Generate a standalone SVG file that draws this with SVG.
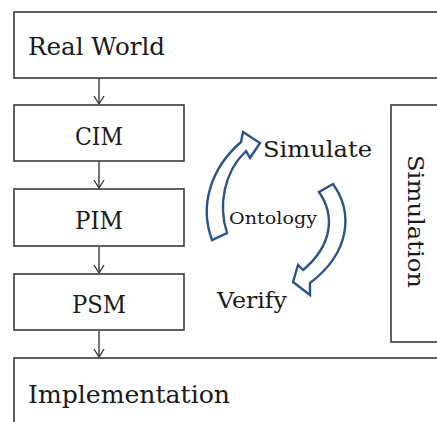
<svg xmlns="http://www.w3.org/2000/svg" width="437" height="422" viewBox="0 0 437 422">
<defs>
<style>
.box{fill:#fff;stroke:#3a3a3a;stroke-width:1.6}
.t{font-family:"DejaVu Serif","Liberation Serif",serif;fill:#1a1a1a}
.conn{stroke:#3a3a3a;stroke-width:1.4;fill:none}
.cyc{fill:#fff;stroke:#2b5587;stroke-width:2.4;stroke-linejoin:miter}
</style>
<marker id="ah" markerWidth="12" markerHeight="12" refX="9" refY="6" orient="auto" markerUnits="userSpaceOnUse">
<path d="M1,1 L9,6 L1,11" fill="none" stroke="#3a3a3a" stroke-width="1.4"/>
</marker>
</defs>
<rect width="437" height="422" fill="#fff"/>
<g id="real-world">
<rect class="box" x="14" y="12" width="430" height="66"/>
<text class="t" x="28" y="55" font-size="24" textLength="137" lengthAdjust="spacingAndGlyphs">Real World</text>
</g>
<g id="cim">
<rect class="box" x="14" y="105" width="170" height="56"/>
<text class="t" x="99" y="145" font-size="25" text-anchor="middle" textLength="48" lengthAdjust="spacingAndGlyphs">CIM</text>
</g>
<g id="pim">
<rect class="box" x="14" y="189" width="170" height="57"/>
<text class="t" x="99" y="229" font-size="25" text-anchor="middle" textLength="48" lengthAdjust="spacingAndGlyphs">PIM</text>
</g>
<g id="psm">
<rect class="box" x="14" y="274" width="170" height="56"/>
<text class="t" x="99" y="313" font-size="25" text-anchor="middle" textLength="54" lengthAdjust="spacingAndGlyphs">PSM</text>
</g>
<g id="implementation">
<rect class="box" x="14" y="358" width="430" height="70"/>
<text class="t" x="28" y="403" font-size="24" textLength="202" lengthAdjust="spacingAndGlyphs">Implementation</text>
</g>
<g id="simulation">
<rect class="box" x="391" y="105" width="50" height="237"/>
<text class="t" transform="translate(408,155) rotate(90)" font-size="23" textLength="133" lengthAdjust="spacingAndGlyphs">Simulation</text>
</g>
<g id="cycle">
<path class="cyc" d="M212,240 C199,205 211,168 241,142 L243,132 L260,143 L250,158 L246,151 C224,172 218,205 227,233 Z"/>
<path class="cyc" d="M319,192 L333,184 C353,212 351,252 310,283 L310,295 L293,282 L298,265 L303,270 C333,245 335,215 319,192 Z"/>
<text class="t" x="263" y="157" font-size="23" textLength="109" lengthAdjust="spacingAndGlyphs">Simulate</text>
<text class="t" x="229" y="224" font-size="17" textLength="88" lengthAdjust="spacingAndGlyphs">Ontology</text>
<text class="t" x="217" y="308" font-size="23" textLength="70" lengthAdjust="spacingAndGlyphs">Verify</text>
</g>
<g id="connectors">
<line class="conn" x1="99" y1="78" x2="99" y2="104" marker-end="url(#ah)"/>
<line class="conn" x1="99" y1="162" x2="99" y2="188" marker-end="url(#ah)"/>
<line class="conn" x1="99" y1="247" x2="99" y2="273" marker-end="url(#ah)"/>
<line class="conn" x1="99" y1="331" x2="99" y2="357" marker-end="url(#ah)"/>
</g>
</svg>
